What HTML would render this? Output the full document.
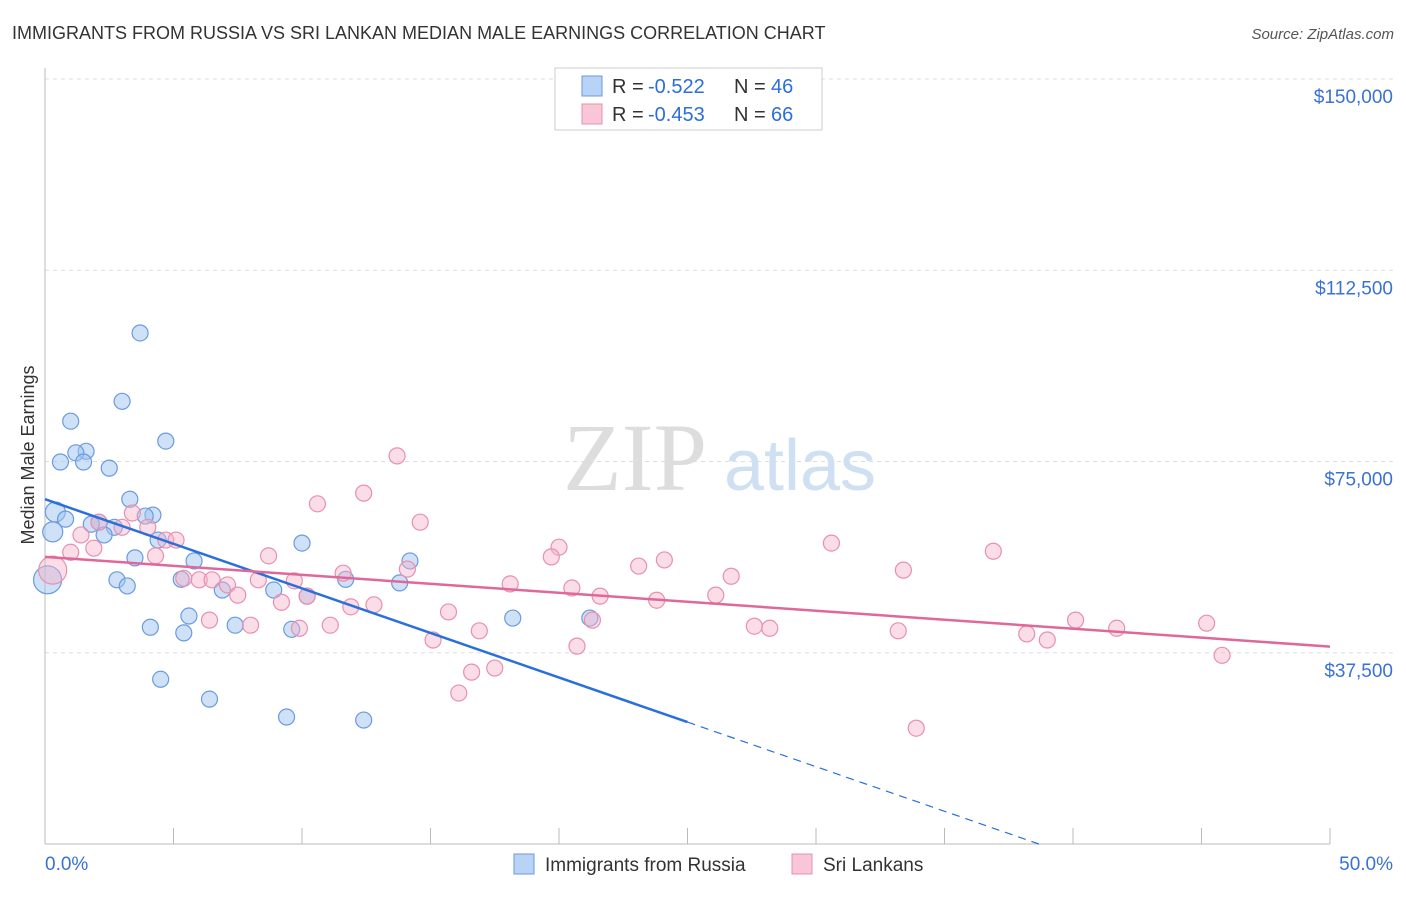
<!DOCTYPE html>
<html><head><meta charset="utf-8">
<style>
body{margin:0;background:#fff;font-family:"Liberation Sans",sans-serif;}
svg text{font-family:"Liberation Sans",sans-serif;}
</style></head>
<body>
<svg width="1406" height="892" xmlns="http://www.w3.org/2000/svg">
<text x="12" y="39" font-size="18" fill="#333">IMMIGRANTS FROM RUSSIA VS SRI LANKAN MEDIAN MALE EARNINGS CORRELATION CHART</text>
<text x="1394" y="39" font-size="15" fill="#555" font-style="italic" text-anchor="end">Source: ZipAtlas.com</text>
<g id="grid"></g>
<g>
<text x="635" y="490" font-size="96" fill="#ddd" font-family="Liberation Serif" text-anchor="middle" style="font-family:'Liberation Serif',serif">ZIP</text>
<text x="800" y="490" font-size="72" fill="#cfe0f3" text-anchor="middle">atlas</text>
</g>
<g id="axes"></g>
<g id="pts"></g>
<g id="lines"></g>
<text x="34" y="455" font-size="18" fill="#333" text-anchor="middle" transform="rotate(-90 34 455)">Median Male Earnings</text>
<g>
<rect x="555" y="68" width="267" height="62" fill="#fff" stroke="#ccc"/>
<rect x="582" y="76" width="20" height="20" fill="#b8d3f5" stroke="#6a9ae0"/>
<rect x="582" y="104" width="20" height="20" fill="#f9c6d6" stroke="#e890b0"/>
<text x="612" y="93" font-size="20" fill="#333">R =</text>
<text x="648" y="93" font-size="20" fill="#2a6fdb">-0.522</text>
<text x="734" y="93" font-size="20" fill="#333">N =</text>
<text x="771" y="93" font-size="20" fill="#2a6fdb">46</text>
<text x="612" y="121" font-size="20" fill="#333">R =</text>
<text x="648" y="121" font-size="20" fill="#2a6fdb">-0.453</text>
<text x="734" y="121" font-size="20" fill="#333">N =</text>
<text x="771" y="121" font-size="20" fill="#2a6fdb">66</text>
</g>
<g>
<rect x="514" y="854" width="20" height="20" fill="#b8d3f5" stroke="#6a9ae0"/>
<text x="545" y="871" font-size="19" fill="#333">Immigrants from Russia</text>
<rect x="792" y="854" width="20" height="20" fill="#f9c6d6" stroke="#e890b0"/>
<text x="823" y="871" font-size="19" fill="#333">Sri Lankans</text>
</g>
</svg>
<script>
const yTicks=[37500,75000,112500,150000];
const yTickLabels=["$37,500","$75,000","$112,500","$150,000"];
const xTickLabels=["0.0%","50.0%"];
const blueX=[3.7,3.0,1.0,4.7,1.6,1.2,0.6,1.5,2.5,3.3,0.4,4.2,3.9,0.8,2.1,1.8,2.7,2.3,0.3,4.4,10.0,3.5,5.8,14.2,11.7,5.3,2.8,3.2,13.8,6.9,8.9,10.2,5.6,18.2,21.2,4.1,7.4,5.4,9.6,4.5,6.4,9.4,12.4,0.1];
const blueY=[100200,86800,82900,79000,77000,76700,74900,74900,73700,67600,65100,64500,64300,63700,63100,62700,62100,60600,61200,59600,59000,56100,55500,55500,51900,51900,51800,50600,51200,49800,49800,48600,44700,44300,44300,42500,42900,41400,42100,32300,28400,24900,24300,51800];
const blueR=[8,8,8,8,8,8,8,8,8,8,10,8,8,8,8,8,8,8,10,8,8,8,8,8,8,8,8,8,8,8,8,8,8,8,8,8,8,8,8,8,8,8,8,14];
const pinkX=[13.7,12.4,10.6,14.6,3.4,2.1,3.0,4.0,1.4,4.7,5.1,1.9,1.0,4.3,8.7,20.0,19.7,24.1,23.1,30.6,36.9,33.4,26.7,5.4,6.0,6.5,8.3,9.7,11.6,14.1,7.1,18.1,20.5,7.5,10.2,21.6,23.8,26.1,9.2,11.9,12.8,15.7,6.4,8.0,9.9,11.1,16.9,21.3,27.6,28.2,33.2,40.1,41.7,45.2,38.2,39.0,15.1,20.7,17.5,16.6,16.1,45.8,33.9,0.3];
const pinkY=[76100,68800,66700,63100,64900,63100,62100,62100,60600,59600,59600,58000,57200,56500,56500,58200,56300,55700,54500,59000,57400,53700,52500,52100,51800,51800,51800,51600,53100,53900,50800,51000,50200,48800,48600,48600,47800,48800,47400,46500,46900,45500,43900,42900,42300,42900,41800,43900,42700,42300,41800,43900,42300,43300,41200,40000,40000,38800,34500,33700,29600,37000,22700,53700];
const blueFit=[67600,-1748];
const pinkFit=[56300,-352];
const NS="http://www.w3.org/2000/svg";
const X0=45,X1=1330,Y0=844,Y150=79;
const sx=v=>X0+(X1-X0)*v/50;
const sy=v=>Y0-(Y0-Y150)*v/150000;
function mk(t,a,p){const e=document.createElementNS(NS,t);for(const k in a)e.setAttribute(k,a[k]);p.appendChild(e);return e;}
const grid=document.getElementById('grid'),axes=document.getElementById('axes'),pts=document.getElementById('pts'),lines=document.getElementById('lines');
yTicks.forEach((t,i)=>{
 const g=mk('line',{x1:X0,x2:1394,y1:sy(t),y2:sy(t),stroke:'#ddd','stroke-dasharray':'4,4'},grid);
 
 
 const l=mk('text',{x:1393,y:sy(t)+24,'font-size':19,fill:'#3a72d4','text-anchor':'end'},axes);
 l.textContent=yTickLabels[i];
 
 
});
mk('line',{x1:X0,x2:X0,y1:68,y2:Y0,stroke:'#bbb'},axes);
mk('line',{x1:X0,x2:X1,y1:Y0,y2:Y0,stroke:'#bbb'},axes);
for(let i=0;i<=10;i++){const t=mk('line',{x1:sx(i*5),x2:sx(i*5),y1:Y0,y2:828,stroke:'#bbb'},axes);}
[[0,'start',45],[50,'end',1393]].forEach((d,i)=>{const l=mk('text',{x:d[2],y:870,'font-size':19,fill:'#3a72d4','text-anchor':d[1]},axes);l.textContent=xTickLabels[i];});
blueX.forEach((x,i)=>{const c=mk('circle',{cx:sx(x),cy:sy(blueY[i]),r:blueR[i],fill:'rgba(160,195,240,0.5)',stroke:'#6a9ae0','stroke-width':1.2},pts);
 
 });
pinkX.forEach((x,i)=>{const c=mk('circle',{cx:sx(x),cy:sy(pinkY[i]),r:i==pinkX.length-1?14:8,fill:'rgba(245,180,200,0.45)',stroke:'#e890b0','stroke-width':1.2},pts);
 
 });
const bf=x=>blueFit[0]+blueFit[1]*x, pf=x=>pinkFit[0]+pinkFit[1]*x;
const xz=-blueFit[0]/blueFit[1];
let e=mk('line',{x1:sx(0),y1:sy(bf(0)),x2:sx(25),y2:sy(bf(25)),stroke:'#2a6fdb','stroke-width':2.5},lines);


e=mk('line',{x1:sx(25),y1:sy(bf(25)),x2:sx(xz),y2:sy(0),stroke:'#2a6fdb','stroke-width':1.2,'stroke-dasharray':'8,6'},lines);


e=mk('line',{x1:sx(0),y1:sy(pf(0)),x2:sx(50),y2:sy(pf(50)),stroke:'#e0679a','stroke-width':2.5},lines);


</script>
</body></html>
